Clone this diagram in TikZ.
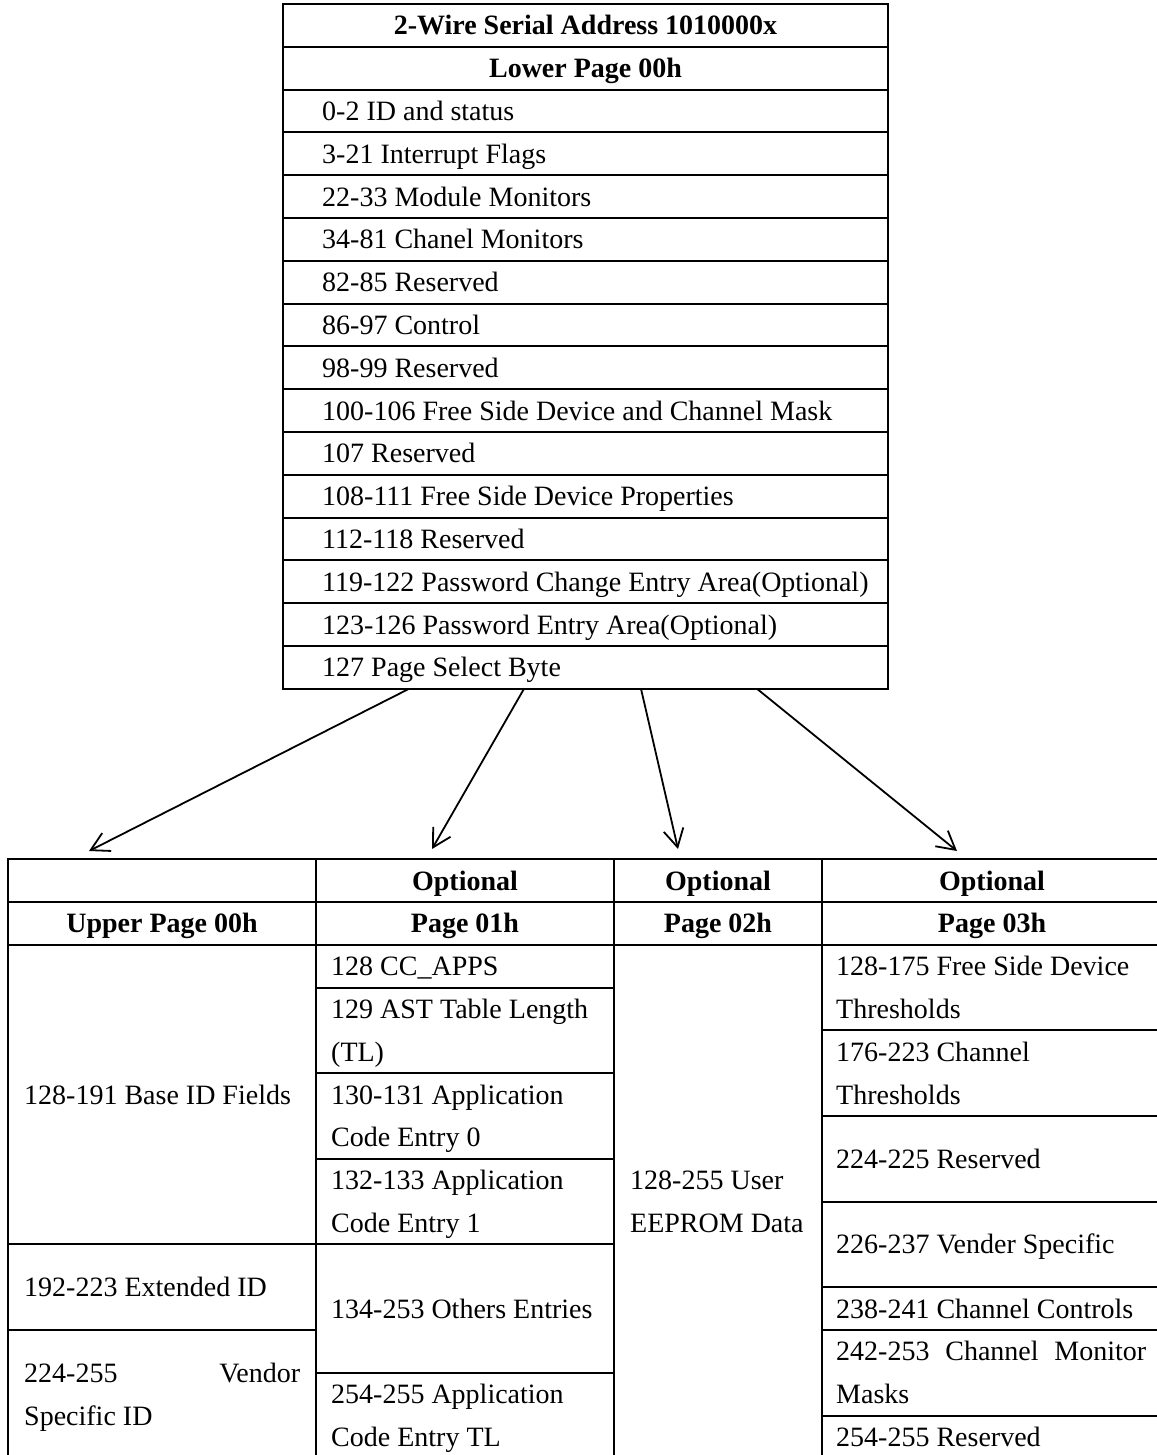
\documentclass[tikz,border=0pt]{standalone}
\usepackage{fontspec}
\setmainfont{Liberation Serif}
\usetikzlibrary{arrows.meta}
\newcommand\lns{\rule[-11.9pt]{0pt}{42.8pt}}
\newcommand\cellfont{\fontsize{28}{42.8}\selectfont}
\begin{document}
\begin{tikzpicture}[x=1pt,y=-1pt,
  tbl/.style={line width=2pt},
  cellt/.style={anchor=west, inner sep=0pt, align=left, font=\cellfont},
  headt/.style={anchor=center, inner sep=0pt, font=\cellfont\bfseries},
  conn/.style={line width=1.8pt, -{Straight Barb[length=18pt,width=20pt,line width=1.8pt]}}]
\useasboundingbox (0,0) rectangle (1156,1455);
% ---------- top table ----------
\draw[tbl] (283,4) rectangle (888,688.8);
\foreach \k in {1,...,15} \draw[tbl] (283,{4+42.8*\k}) -- (888,{4+42.8*\k});
\node[headt] (h0) at (585.5,{4+42.8*0.5}) {\lns 2-Wire Serial Address 1010000x};
\node[headt] (h1) at (585.5,{4+42.8*1.5}) {\lns Lower Page 00h};
\foreach \t [count=\i from 2] in {0-2 ID and status, 3-21 Interrupt Flags, 22-33 Module Monitors, 34-81 Chanel Monitors, 82-85 Reserved, 86-97 Control, 98-99 Reserved, 100-106 Free Side Device and Channel Mask, 107 Reserved, 108-111 Free Side Device Properties, 112-118 Reserved, 119-122 Password Change Entry Area(Optional), 123-126 Password Entry Area(Optional), 127 Page Select Byte}
  \node[cellt] (r\i) at (322,{4+42.8*(\i+0.5)}) {\lns\t};
% ---------- arrows ----------
\coordinate (s1) at (409,688.8); \coordinate (e1) at (89,851);
\coordinate (s2) at (524,688.8); \coordinate (e2) at (432,849);
\coordinate (s3) at (641,688.8); \coordinate (e3) at (678,849);
\coordinate (s4) at (757,688.8); \coordinate (e4) at (957,851);
\foreach \i in {1,...,4} \draw[conn] (s\i) -- (e\i);
% ---------- bottom table ----------
\def\H{859.2}
\def\U{42.8}
\def\B{944.8}
\draw[tbl] (8,\H) rectangle (1162,{\B+12*\U});
\draw[tbl] (8,{\H+\U}) -- (1162,{\H+\U});
\draw[tbl] (8,\B) -- (1162,\B);
\draw[tbl] (316,\H) -- (316,{\B+12*\U});
\draw[tbl] (614,\H) -- (614,{\B+12*\U});
\draw[tbl] (822,\H) -- (822,{\B+12*\U});
\foreach \k in {7,9} \draw[tbl] (8,{\B+\k*\U}) -- (316,{\B+\k*\U});
\foreach \k in {1,3,5,7,10} \draw[tbl] (316,{\B+\k*\U}) -- (614,{\B+\k*\U});
\foreach \k in {2,4,6,8,9,11} \draw[tbl] (822,{\B+\k*\U}) -- (1162,{\B+\k*\U});
% headers
\node[headt] (u0) at (162,{\B-0.5*\U}) {\lns Upper Page 00h};
\node[headt] (p1a) at (465,{\H+0.5*\U}) {\lns Optional};
\node[headt] (p1b) at (465,{\B-0.5*\U}) {\lns Page 01h};
\node[headt] (p2a) at (718,{\H+0.5*\U}) {\lns Optional};
\node[headt] (p2b) at (718,{\B-0.5*\U}) {\lns Page 02h};
\node[headt] (p3a) at (992,{\H+0.5*\U}) {\lns Optional};
\node[headt] (p3b) at (992,{\B-0.5*\U}) {\lns Page 03h};
% column 1
\node[cellt] (c1a) at (24,{\B+3.5*\U}) {\lns 128-191 Base ID Fields};
\node[cellt] (c1b) at (24,{\B+8*\U}) {\lns 192-223 Extended ID};
\node[cellt] (c1c) at (24,{\B+10.5*\U}) {\lns\makebox[276pt][s]{224-255 Vendor}\\\lns Specific ID};
% column 2
\node[cellt] (c2a) at (331,{\B+0.5*\U}) {\lns 128 CC\_APPS};
\node[cellt] (c2b) at (331,{\B+2*\U}) {\lns 129 AST Table Length\\\lns (TL)};
\node[cellt] (c2c) at (331,{\B+4*\U}) {\lns 130-131 Application\\\lns Code Entry 0};
\node[cellt] (c2d) at (331,{\B+6*\U}) {\lns 132-133 Application\\\lns Code Entry 1};
\node[cellt] (c2e) at (331,{\B+8.5*\U}) {\lns 134-253 Others Entries};
\node[cellt] (c2f) at (331,{\B+11*\U}) {\lns 254-255 Application\\\lns Code Entry TL};
% column 3
\node[cellt] (c3a) at (630,{\B+6*\U}) {\lns 128-255 User\\\lns EEPROM Data};
% column 4
\node[cellt] (c4a) at (836,{\B+1*\U}) {\lns 128-175 Free Side Device\\\lns Thresholds};
\node[cellt] (c4b) at (836,{\B+3*\U}) {\lns 176-223 Channel\\\lns Thresholds};
\node[cellt] (c4c) at (836,{\B+5*\U}) {\lns 224-225 Reserved};
\node[cellt] (c4d) at (836,{\B+7*\U}) {\lns 226-237 Vender Specific};
\node[cellt] (c4e) at (836,{\B+8.5*\U}) {\lns 238-241 Channel Controls};
\node[cellt] (c4f) at (836,{\B+10*\U}) {\lns\makebox[310pt][s]{242-253 Channel Monitor}\\\lns Masks};
\node[cellt] (c4g) at (836,{\B+11.5*\U}) {\lns 254-255 Reserved};
\end{tikzpicture}
\end{document}
